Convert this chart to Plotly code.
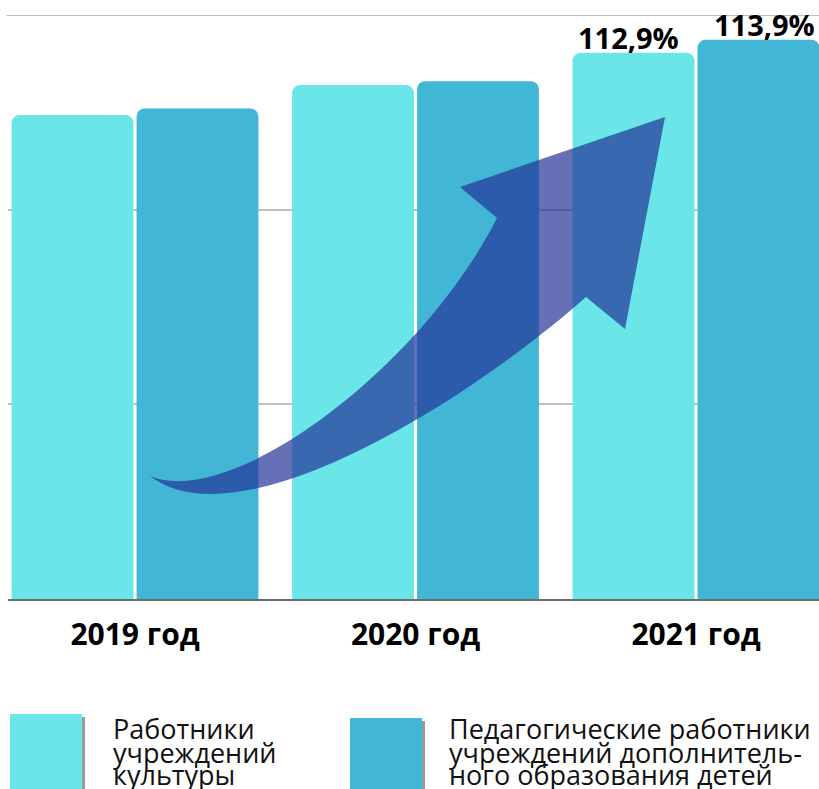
import plotly.graph_objects as go

# ---- data ----
categories = ["2019 год", "2020 год", "2021 год"]
culture_workers = [108.1, 110.4, 112.9]
edu_workers = [108.6, 110.7, 113.9]
culture_labels = ["", "", "112,9%"]
edu_labels = ["", "", "113,9%"]
series_names = ["Работники учреждений культуры",
                "Педагогические работники учреждений дополнительного образования детей"]
legend_lines_1 = ["Работники", "учреждений", "культуры"]
legend_lines_2 = ["Педагогические работники", "учреждений дополнитель-", "ного образования детей"]
y_min, y_step = 70.8, 15.0

LIGHT = "#6ae5e8"
DARK = "#42b7d5"
ARROW = "rgba(35,51,153,0.7)"

OFF = 0  # page body margin (removed via post_script)
W, H = 819, 789
ML, MR, MT, MB = 8, 0, 15, 190
PW, PH = W - ML - MR, H - MT - MB
BASE = 599  # page pixel of baseline


def px(x):
    return (x - OFF - ML) / PW


def py(y):
    return (BASE - y) / PH


fig = go.Figure()
for vals, name, col in [(culture_workers, series_names[0], LIGHT),
                        (edu_workers, series_names[1], DARK)]:
    fig.add_trace(go.Bar(x=categories, y=vals, name=name, hoverinfo="skip",
                         marker=dict(color=col, line=dict(width=0)), cliponaxis=False))

# value labels above the 2021 bars
annotations = []
for vals, labels, xs in [(culture_workers, culture_labels, -68), (edu_workers, edu_labels, 68)]:
    for c, v, t in zip(categories, vals, labels):
        if t:
            annotations.append(dict(text=t, x=c, y=v, xref="x", yref="y", xshift=xs, yshift=-6,
                                    xanchor="center", yanchor="bottom", showarrow=False,
                                    font=dict(family="Open Sans", size=29, color="black", weight="bold")))

# decorative arrow (outline in page pixels converted to paper units)
def P(x, y):
    return f"{px(x):.5f},{py(y):.5f}"

arrow_path = (f"M {P(150,476)} C {P(230,510)} {P(420,370)} {P(497,218)} "
              f"L {P(460,187)} L {P(665,117)} L {P(625,329)} L {P(586,297)} "
              f"C {P(470,400)} {P(240,545)} {P(150,476)} Z")

shapes = [dict(type="line", xref="paper", yref="y", x0=-0.002, x1=1,
               y0=y_min + 3 * y_step, y1=y_min + 3 * y_step,
               line=dict(color="#bfbfbf", width=2), layer="below"),
          dict(type="path", path=arrow_path, xref="paper", yref="paper",
               fillcolor=ARROW, line=dict(width=0), layer="above")]

# legend boxes with shadows
for x0, y0, col in [(10, 714, LIGHT), (350, 718, DARK)]:
    shapes.append(dict(type="rect", xref="paper", yref="paper",
                       x0=px(x0 + 3), x1=px(x0 + 75), y0=py(y0 + 3), y1=py(y0 + 80),
                       fillcolor="#9a9a9a", line=dict(width=0)))
    shapes.append(dict(type="rect", xref="paper", yref="paper",
                       x0=px(x0), x1=px(x0 + 72), y0=py(y0), y1=py(y0 + 80),
                       fillcolor=col, line=dict(width=0)))

for lines, x0 in [(legend_lines_1, 113), (legend_lines_2, 449)]:
    for i, t in enumerate(lines):
        annotations.append(dict(text=t, xref="paper", yref="paper",
                                x=px(x0 - 2), y=py(729 + 23 * i), xanchor="left", yanchor="middle",
                                showarrow=False,
                                font=dict(family="Open Sans", size=27, color="#111111")))

fig.update_layout(
    width=W, height=H, autosize=False,
    margin=dict(l=ML, r=MR, t=MT, b=MB, pad=0),
    paper_bgcolor="white", plot_bgcolor="white",
    barmode="group", bargap=0.109, bargroupgap=0.025, barcornerradius=8,
    showlegend=False, hovermode=False,
    shapes=shapes, annotations=annotations,
    font=dict(family="Open Sans"),
)
fig.update_xaxes(type="category", range=[-0.4528, -0.4528 + PW / 280.5], showgrid=False,
                 showline=True, linecolor="#6b6b6b", linewidth=2,
                 ticks="", ticklabelstandoff=8,
                 tickfont=dict(family="Open Sans", size=30, color="black", weight="bold"))
fig.update_yaxes(range=[y_min, y_min + 3 * y_step], tick0=y_min, dtick=y_step, showticklabels=False,
                 showgrid=True, gridcolor="#bfbfbf", gridwidth=2, zeroline=False,
                 showline=False)

fig.write_html("out.html", config={"displayModeBar": False},
               post_script="document.body.style.margin='0';document.body.style.overflow='hidden';"
                           "document.documentElement.style.overflow='hidden';")
